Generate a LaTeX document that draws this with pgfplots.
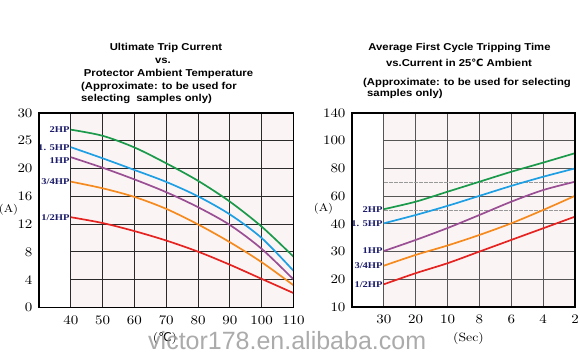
\documentclass[border=0pt]{standalone}
\usepackage{pgfplots}
\pgfplotsset{compat=1.18}
\usepackage{fontspec}
\newfontfamily\titlefont[FakeStretch=1.13]{Liberation Sans}
\newfontfamily\tickfont[Extension=.otf,FakeStretch=1.15]{lmroman10-regular}
\newfontfamily\lblfont[FakeStretch=1.2]{Liberation Serif}
\newfontfamily\symfont{DejaVu Sans}
\newfontfamily\wmfont{Liberation Sans}
\definecolor{cgreen}{HTML}{1A9A4A}
\definecolor{cblue}{HTML}{1E9FE4}
\definecolor{cpurple}{HTML}{9A4E94}
\definecolor{corange}{HTML}{F58A1F}
\definecolor{cred}{HTML}{E52421}
\definecolor{lblc}{HTML}{1C1C6A}
\definecolor{bgc}{HTML}{FBF4F4}
\definecolor{gridc}{HTML}{2A2A2A}
\definecolor{gridr}{HTML}{555555}
\pgfplotsset{
  chartstyle/.style={
    scale only axis,
    axis on top,
    axis line style={line width=1.4pt,black},
    major tick length=0pt,
    ticklabel style={font=\tickfont\fontsize{13}{13}\selectfont},
    xticklabel style={yshift=-4.5pt},
    yticklabel style={xshift=-3pt},
    ymin=0, ymax=7,
    ytick={0,1,2,3,4,5,6,7},
    every axis plot/.append style={line width=1.7pt, smooth, no markers},
  },
}
\tikzset{hplabel/.style={font=\lblfont\bfseries\fontsize{8.8}{8.8}\selectfont, text=lblc, anchor=east, inner sep=1pt}}
\begin{document}
\begin{tikzpicture}[x=1pt,y=1pt]
\useasboundingbox (0pt,0pt) rectangle (580pt,358pt);

% ---------- Left chart ----------
\begin{axis}[chartstyle,
  at={(39pt,50.5pt)}, anchor=south west,
  width=254.5pt, height=194.5pt,
  xmin=30, xmax=110,
  xtick={40,50,60,70,80,90,100,110},
  xticklabels={40,50,60,70,80,90,100,110},
  yticklabels={0,4,8,12,16,20,25,30},
]
\fill[bgc] (axis cs:40,0) rectangle (axis cs:110,7);
\pgfplotsinvokeforeach{40,50,60,70,80,90,100}{\draw[gridc,line width=0.9pt] (axis cs:#1,0) -- (axis cs:#1,7);}
\pgfplotsinvokeforeach{1,2,3,4,5,6}{\draw[gridc,line width=0.9pt] (axis cs:40,#1) -- (axis cs:110,#1);}
\addplot[cgreen] coordinates {(40,6.40) (50,6.18) (60,5.76) (70,5.19) (80,4.56) (90,3.81) (100,2.91) (110,1.83)};
\addplot[cblue] coordinates {(40,5.77) (50,5.37) (60,4.95) (70,4.52) (80,4.00) (90,3.35) (100,2.50) (110,1.32)};
\addplot[cpurple] coordinates {(40,5.41) (50,5.03) (60,4.61) (70,4.15) (80,3.61) (90,2.97) (100,2.11) (110,1.01)};
\addplot[corange] coordinates {(40,4.53) (50,4.29) (60,3.98) (70,3.55) (80,2.99) (90,2.35) (100,1.63) (110,0.80)};
\addplot[cred] coordinates {(40,3.25) (50,3.04) (60,2.75) (70,2.41) (80,2.01) (90,1.54) (100,1.03) (110,0.52)};
\node[hplabel] at (axis cs:40,6.40) {2HP};
\node[hplabel] at (axis cs:40,5.77) {1. 5HP};
\node[hplabel,yshift=-3pt] at (axis cs:40,5.41) {1HP};
\node[hplabel] at (axis cs:40,4.53) {3/4HP};
\node[hplabel] at (axis cs:40,3.25) {1/2HP};
\end{axis}

% ---------- Right chart ----------
\begin{axis}[chartstyle,
  at={(352pt,51pt)}, anchor=south west,
  width=223pt, height=194pt,
  xmin=0, xmax=7,
  xtick={1,2,3,4,5,6,7},
  xticklabels={30,20,10,8,6,4,2},
  yticklabels={10,20,30,40,60,80,100,140},
  yticklabel style={xshift=0pt},
]
\fill[bgc] (axis cs:1,0) rectangle (axis cs:7,7);
\pgfplotsinvokeforeach{1,2,3,4,5,6}{\draw[gridr,line width=0.9pt] (axis cs:#1,0) -- (axis cs:#1,7);}
\pgfplotsinvokeforeach{1,2,3,4,5,6}{\draw[gridr,line width=0.9pt] (axis cs:1,#1) -- (axis cs:7,#1);}
\pgfplotsinvokeforeach{3.5,4.5}{\draw[gridr!60,line width=0.7pt,dash pattern=on 4pt off 1pt] (axis cs:1,#1) -- (axis cs:7,#1);}
\addplot[cgreen] coordinates {(1,3.53) (2,3.80) (3,4.16) (4,4.52) (5,4.88) (6,5.21) (7,5.55)};
\addplot[cblue] coordinates {(1,3.02) (2,3.32) (3,3.65) (4,4.01) (5,4.37) (6,4.70) (7,5.00)};
\addplot[cpurple] coordinates {(1,2.02) (2,2.42) (3,2.85) (4,3.32) (5,3.80) (6,4.22) (7,4.52)};
\addplot[corange] coordinates {(1,1.49) (2,1.88) (3,2.22) (4,2.60) (5,3.02) (6,3.50) (7,4.01)};
\addplot[cred] coordinates {(1,0.82) (2,1.22) (3,1.58) (4,2.00) (5,2.42) (6,2.84) (7,3.26)};
\node[hplabel] at (axis cs:1,3.53) {2HP};
\node[hplabel] at (axis cs:1,3.02) {1. 5HP};
\node[hplabel] at (axis cs:1,2.02) {1HP};
\node[hplabel] at (axis cs:1,1.49) {3/4HP};
\node[hplabel] at (axis cs:1,0.82) {1/2HP};
\end{axis}

% ---------- Titles ----------
\begin{scope}[every node/.style={font=\titlefont\bfseries\fontsize{10}{12}\selectfont, inner sep=0pt}]
\node[anchor=base] at (166pt,307.3pt) {Ultimate Trip Current};
\node[anchor=base] at (163pt,294pt) {vs.};
\node[anchor=base] at (168.5pt,281.3pt) {Protector Ambient Temperature};
\node[anchor=base west] at (81pt,268.7pt) {(Approximate: to be used for};
\node[anchor=base west] at (81pt,256.3pt) {selecting\ \ samples only)};
\node[anchor=base] at (459.5pt,307.3pt) {Average First Cycle Tripping Time};
\node[anchor=base] at (459pt,291.3pt) {vs.Current in 25{\symfont\bfseries ℃} Ambient};
\node[anchor=base west] at (363pt,272.3pt) {(Approximate: to be used for selecting};
\node[anchor=base west] at (367pt,261.3pt) {samples only)};
\end{scope}

% ---------- Axis unit labels ----------
\node[font=\tickfont\fontsize{11}{11}\selectfont, inner sep=0pt] at (8.5pt,148pt) {(A)};
\node[font=\tickfont\fontsize{11}{11}\selectfont, inner sep=0pt] at (323.5pt,149pt) {(A)};
\node[font=\tickfont\fontsize{12}{12}\selectfont, inner sep=0pt] at (165pt,19pt) {({\symfont ℃})};
\node[font=\tickfont\fontsize{12}{12}\selectfont, inner sep=0pt] at (468.5pt,19pt) {(Sec)};

% ---------- Watermark ----------
\node[anchor=base west, inner sep=0pt, font=\wmfont\fontsize{25}{25}\selectfont, text={rgb,255:red,150;green,150;blue,150}, text opacity=0.8] at (148pt,8.5pt) {victor178.en.alibaba.com};
\end{tikzpicture}
\end{document}
